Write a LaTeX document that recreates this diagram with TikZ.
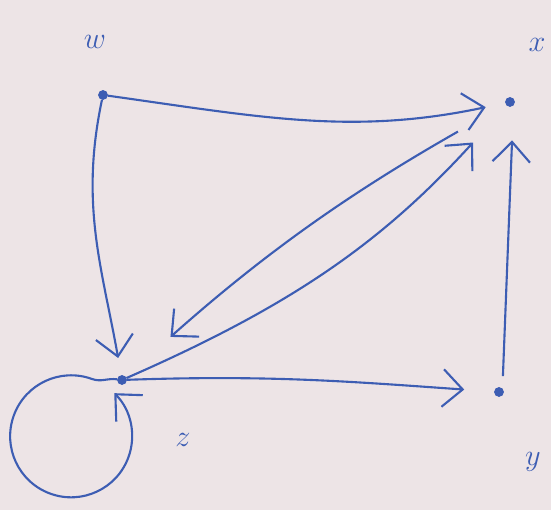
\documentclass[tikz,border=0pt]{standalone}
\usetikzlibrary{arrows.meta, positioning}
\definecolor{InkBlue}{HTML}{3D5DB3}
\definecolor{PaperPink}{HTML}{EDE4E6}
\tikzset{
    % Vertex styles
    vertex/.style={
        circle,
        draw=InkBlue,
        fill=InkBlue,
        inner sep=0pt,
        minimum size=1.8mm
    },
    vlabel/.style={
        text=InkBlue,
        font=\LARGE
    },
    % Arrow style - open hand-drawn heads
    edgearrow/.style={
        -{Straight Barb[length=4mm, width=7.5mm]},
        line width=1.2pt,
        draw=InkBlue
    }
}

\begin{document}
\begin{tikzpicture}
    % Paper
    \fill[PaperPink] (0,0) rectangle (11.02,10.2);
    \useasboundingbox (0,0) rectangle (11.02,10.2);

    % Vertices
    \node[vertex] (w) at (2.06,8.30) {};
    \node[vertex] (x) at (10.20,8.16) {};
    \node[vertex] (y) at (9.98,2.36) {};
    \node[vertex] (z) at (2.44,2.60) {};

    % Labels
    \node[vlabel] (lw) at (1.90,9.36) {$w$};
    \node[vlabel] (lx) at (10.74,9.30) {$x$};
    \node[vlabel] (ly) at (10.66,0.96) {$y$};
    \node[vlabel] (lz) at (3.66,1.40) {$z$};

    % Edges
    \draw[edgearrow, shorten >=0.4cm] (w) to[out=-8, in=192] (x);
    \draw[edgearrow, shorten <=1.1cm, shorten >=1.2cm] (x) to[bend right=6] (z);
    \draw[edgearrow, shorten >=1.0cm] (z) to[bend right=12] (x);
    \draw[edgearrow, shorten >=0.35cm] (w) to[out=-102, in=100] (z);
    \draw[edgearrow, shorten >=0.6cm] (z) to[out=2, in=176] (y);
    \draw[edgearrow, shorten <=0.25cm, shorten >=0.7cm] (y.north east) -- (x.south east);

    % Loop at z
    \coordinate (ztop) at (1.84,2.62);
    \draw[edgearrow] (z) to[out=172, in=-20] (ztop)
        arc[start angle=70, end angle=405, radius=1.22cm];
\end{tikzpicture}
\end{document}
